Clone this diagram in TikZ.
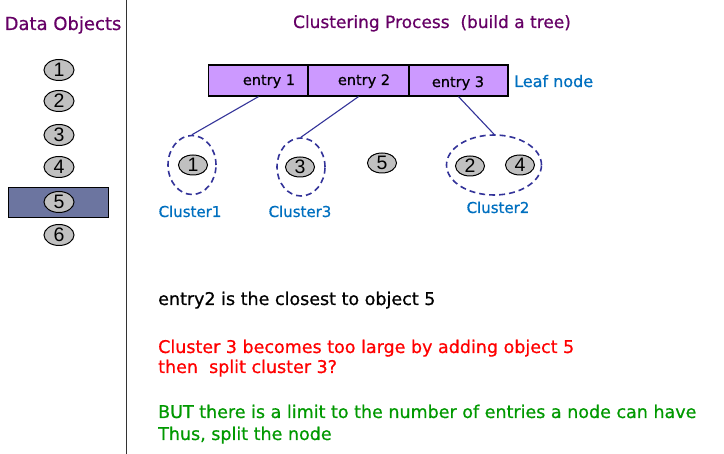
\documentclass[tikz,border=0pt]{standalone}
\usepackage{fontspec}
\setmainfont{DejaVu Sans}[FakeBold=0.7]
\newfontfamily\digitfont{Liberation Sans}
\usetikzlibrary{shapes.geometric}
\definecolor{titlepurple}{RGB}{102,0,102}
\definecolor{labelblue}{RGB}{0,112,192}
\definecolor{linkblue}{RGB}{51,51,153}
\definecolor{objgray}{RGB}{192,192,192}
\definecolor{cellfill}{RGB}{204,153,255}
\definecolor{hilite}{RGB}{108,117,160}
\definecolor{textred}{RGB}{255,0,0}
\definecolor{textgreen}{RGB}{0,153,0}
\begin{document}
\begin{tikzpicture}[x=1pt,y=-1pt,
  obj/.style={ellipse,draw=black,line width=1pt,fill=objgray,minimum width=30pt,minimum height=21pt,inner sep=0pt,font=\digitfont\fontsize{19.5}{19.5}\selectfont},
  cell/.style={rectangle,draw=black,line width=1.2pt,fill=cellfill,minimum height=31pt,inner sep=0pt},
  celltext/.style={anchor=base,font=\fontsize{14.5}{14.5}\selectfont,inner sep=0pt},
  cluster/.style={ellipse,draw=linkblue,line width=1.6pt,dash pattern=on 6pt off 4pt,inner sep=0pt},
  clabel/.style={anchor=base,text=labelblue,font=\fontsize{15}{15}\selectfont,inner sep=0pt},
  link/.style={draw=linkblue,line width=1.1pt},
  body/.style={anchor=base west,font=\fontsize{17.5}{17.5}\selectfont,inner sep=0pt}]
\useasboundingbox (0,0) rectangle (724,454);
\fill[white] (0,0) rectangle (724,454);
% separator
\draw[line width=0.8pt,black!80] (126,0) -- (126,454);
% left column
\node[anchor=base,text=titlepurple,font=\fontsize{18}{18}\selectfont,inner sep=0pt] (dtitle) at (63,30) {Data Objects};
\node[rectangle,draw=black,line width=0.8pt,fill=hilite,minimum width=100pt,minimum height=30pt,inner sep=0pt] (hl) at (58.5,202) {};
\node[obj] (o1) at (59,70) {1};
\node[obj] (o2) at (59,101) {2};
\node[obj] (o3) at (59,135) {3};
\node[obj] (o4) at (59,167) {4};
\node[obj] (o5) at (59,202) {5};
\node[obj] (o6) at (59,235) {6};
% title
\node[anchor=base,text=titlepurple,font=\fontsize{17}{17}\selectfont,inner sep=0pt] (ptitle) at (432,28) {Clustering Process\ \ (build a tree)};
% leaf node
\node[cell,minimum width=100pt] (e1) at (258.5,80.5) {};
\node[cell,minimum width=101pt] (e2) at (358.5,80.5) {};
\node[cell,minimum width=99pt] (e3) at (458.5,80.5) {};
\node[celltext] (t1) at (269,85) {entry 1};
\node[celltext] (t2) at (364,85) {entry 2};
\node[celltext] (t3) at (458,87) {entry 3};
\node[anchor=base west,text=labelblue,font=\fontsize{16}{16}\selectfont,inner sep=0pt] (leaf) at (514,87) {Leaf node};
% clusters
\node[cluster,minimum width=48pt,minimum height=59pt] (c1) at (192,165) {};
\node[cluster,minimum width=48pt,minimum height=58pt] (c3) at (301,167) {};
\node[cluster,minimum width=95pt,minimum height=60pt] (c2) at (494,165) {};
\node[obj,minimum width=29pt,minimum height=20pt] (k1) at (193,165) {1};
\node[obj,minimum width=29pt,minimum height=20pt] (k3) at (300,167) {3};
\node[obj,minimum width=29pt,minimum height=20pt] (k5) at (382,163) {5};
\node[obj,minimum width=29pt,minimum height=20pt] (k2) at (470,166) {2};
\node[obj,minimum width=29pt,minimum height=20pt] (k4) at (520,165) {4};
\node[clabel] (l1) at (190,217) {Cluster1};
\node[clabel] (l3) at (300,217) {Cluster3};
\node[clabel] (l2) at (498,213) {Cluster2};
% links
\draw[link] (e1.south) -- (c1.north);
\draw[link] (e2.south) -- (c3.north);
\draw[link] (e3.south) -- (c2.north);
% text
\node[body,text=black] (s1) at (158,305) {entry2 is the closest to object 5};
\node[body,text=textred] (s2) at (158,353) {Cluster 3 becomes too large by adding object 5};
\node[body,text=textred] (s3) at (158,373) {then\ \ split cluster 3?};
\node[body,text=textgreen] (s4) at (158,418) {BUT there is a limit to the number of entries a node can have};
\node[body,text=textgreen] (s5) at (158,440) {Thus, split the node};
\end{tikzpicture}
\end{document}
